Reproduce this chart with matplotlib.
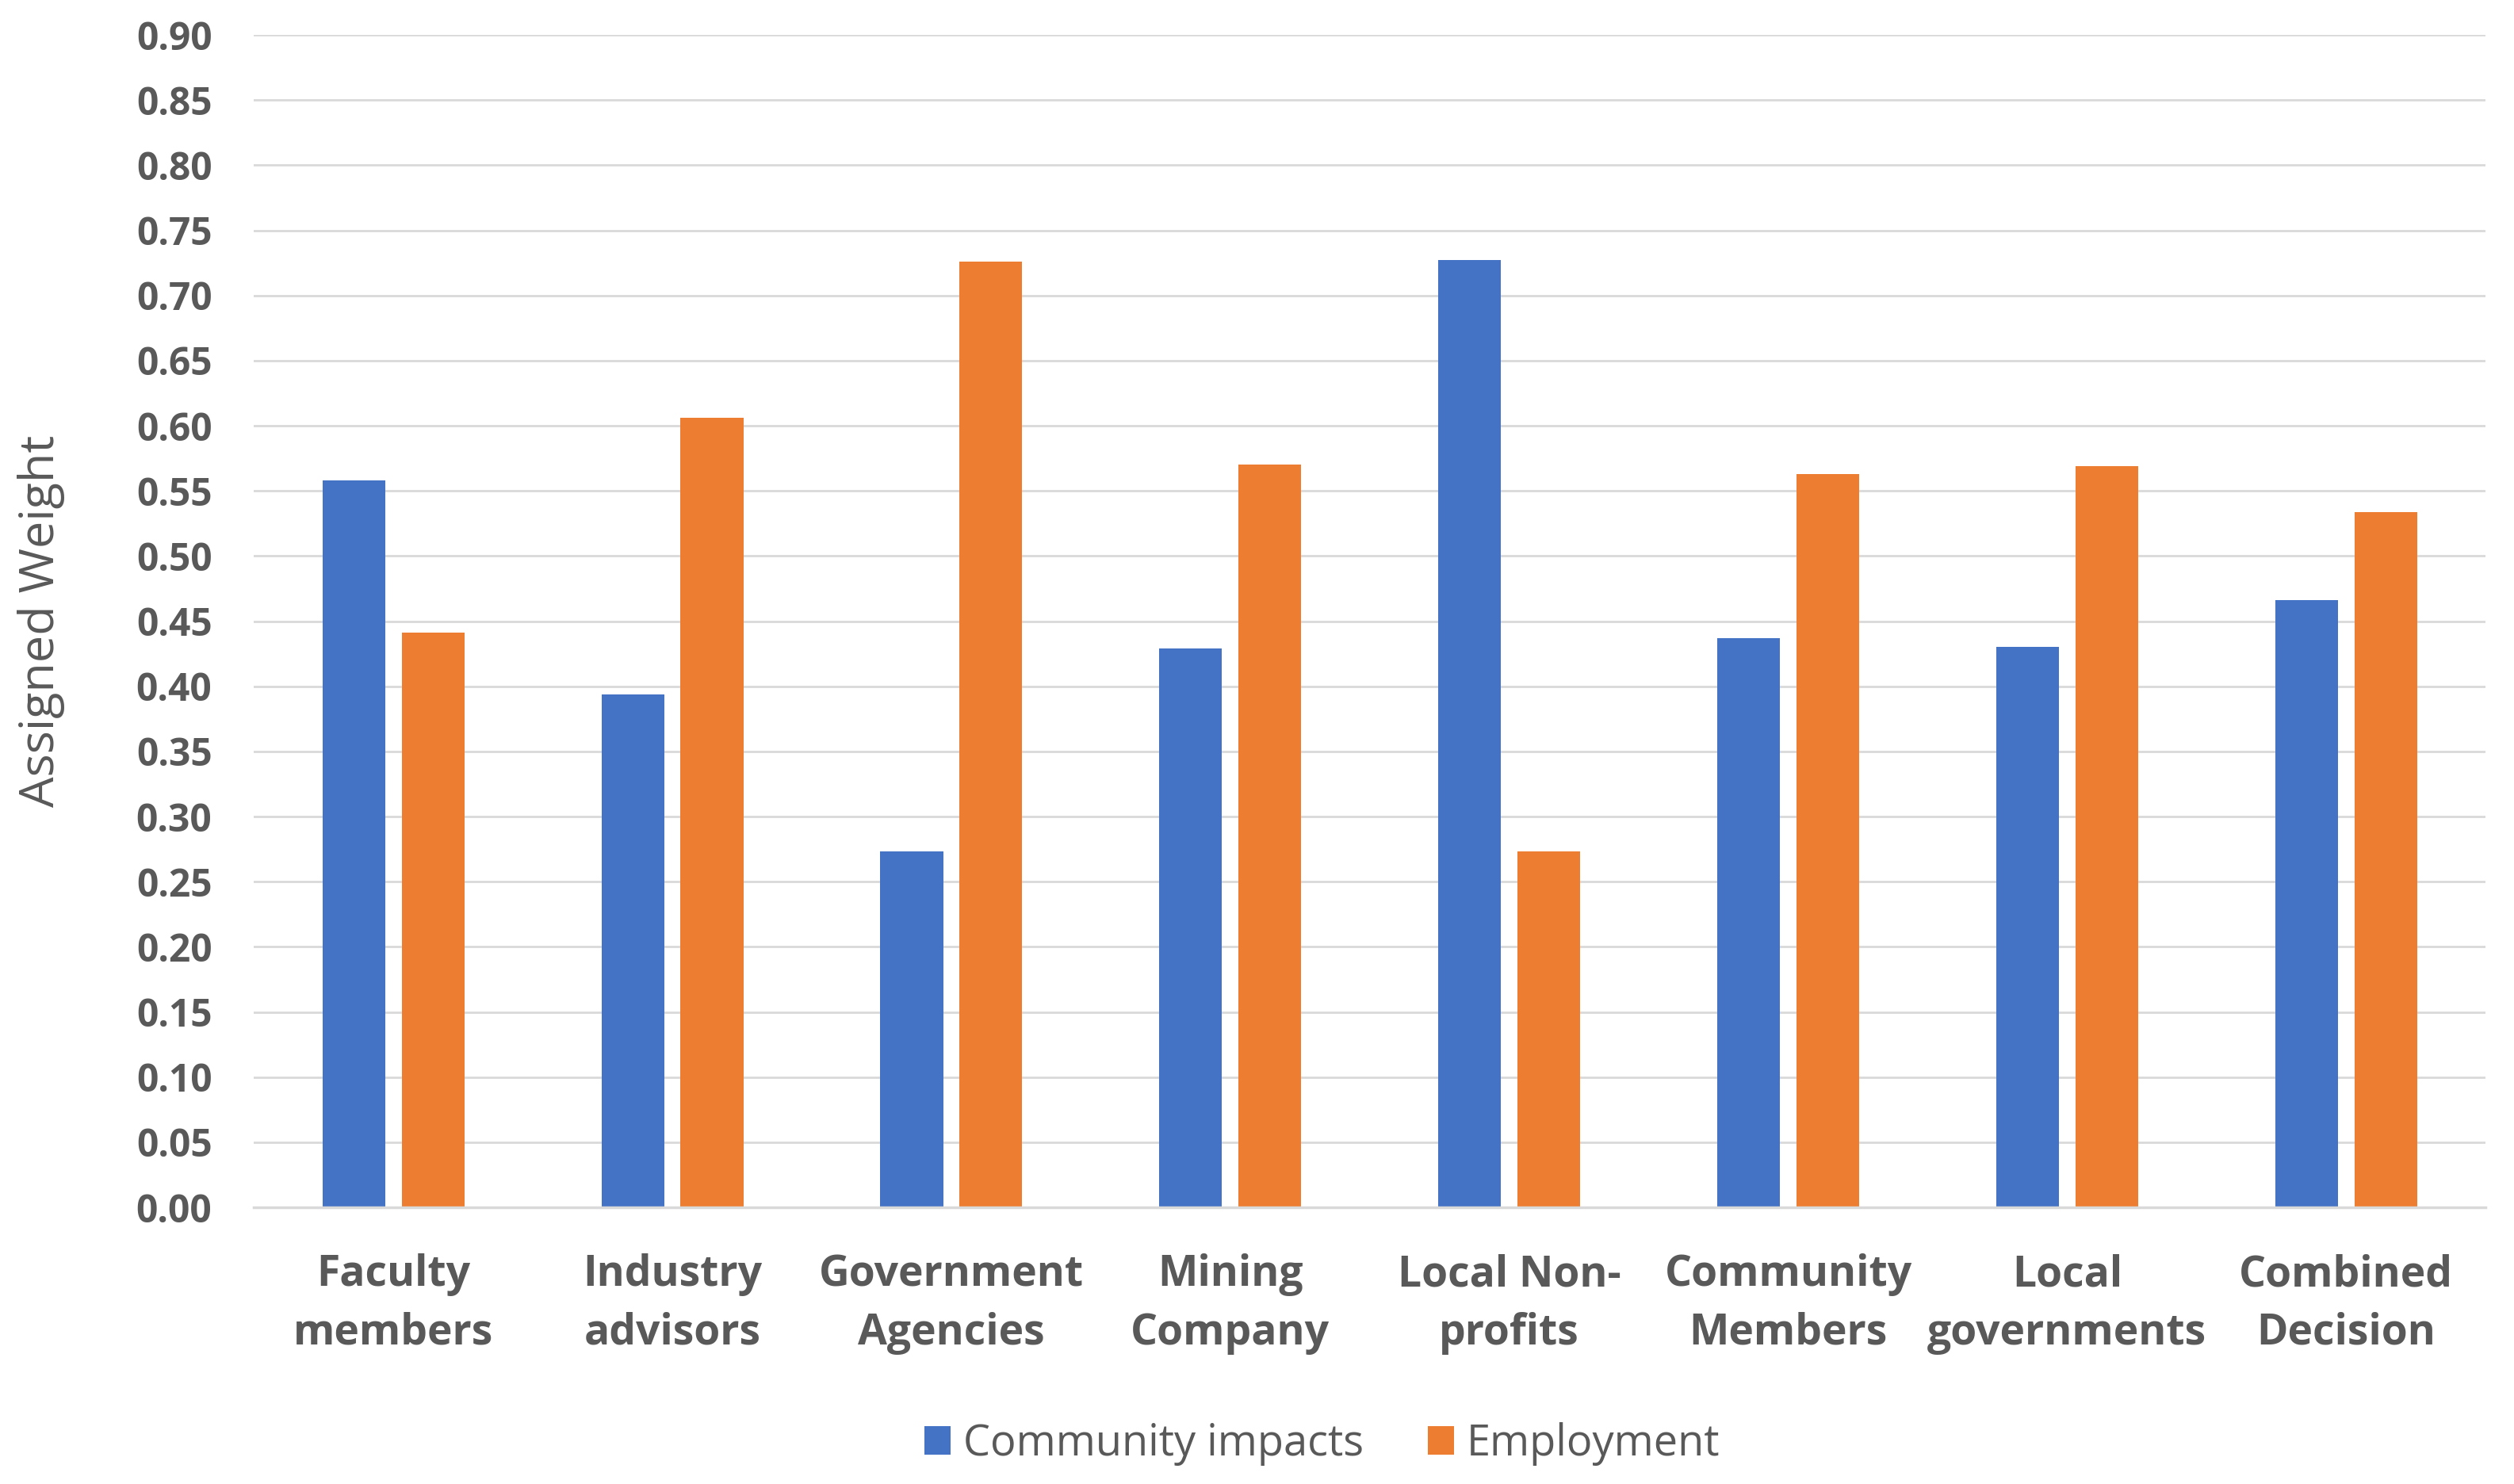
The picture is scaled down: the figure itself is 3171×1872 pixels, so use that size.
import numpy as np
import matplotlib.pyplot as plt

plt.rcParams['font.family'] = ['Open Sans', 'DejaVu Sans']

# data
groups = ["Faculty\nmembers", "Industry\nadvisors", "Government\nAgencies", "Mining\nCompany",
          "Local Non-\nprofits", "Community\nMembers", "Local\ngovernments", "Combined\nDecision"]
community = [0.558, 0.394, 0.273, 0.429, 0.727, 0.437, 0.430, 0.466]
employment = [0.441, 0.606, 0.726, 0.570, 0.273, 0.563, 0.569, 0.534]
yticks = np.arange(0, 0.901, 0.05)

blue = '#4472C4'
orange = '#ED7D31'
grey_text = '#595959'
grid = '#d9d9d9'

fig = plt.figure(figsize=(31.71, 18.72), dpi=100)
ax = fig.add_axes([0.101, 0.1864, 0.8877, 0.790])

x = np.arange(len(groups))
w = 0.225
off = 0.142
b1 = ax.bar(x - off, community, w, color=blue, label='Community impacts', zorder=3)
b2 = ax.bar(x + off, employment, w, color=orange, label='Employment', zorder=3)

ax.set_xlim(-0.5, len(groups) - 0.5)
ax.set_ylim(0, 0.9)
ax.set_yticks(yticks)
ax.set_yticklabels(['%.2f' % v for v in yticks])
ax.set_xticks(x)
ax.set_xticklabels(groups, linespacing=1.47)

for s in ['top', 'right', 'left']:
    ax.spines[s].set_visible(False)
ax.spines['bottom'].set_color(grid)
ax.spines['bottom'].set_linewidth(2.5)
ax.spines['bottom'].set_zorder(4)
ax.yaxis.grid(True, color=grid, linewidth=2)
ax.set_axisbelow(True)

ax.tick_params(axis='y', length=0, pad=38, labelsize=34.5, labelcolor=grey_text)
ax.tick_params(axis='x', length=0, pad=42, labelsize=38.5, labelcolor=grey_text)
for lab in ax.get_yticklabels() + ax.get_xticklabels():
    lab.set_fontweight('bold')

ax.set_ylabel('Assigned Weight', fontsize=44, color=grey_text)
ax.yaxis.set_label_coords(-0.0845, 0.5)

fig.legend(handles=[b1, b2], loc='center', bbox_to_anchor=(0.526, 0.027), ncol=2,
           frameon=False, fontsize=39, labelcolor=grey_text,
           handlelength=0.6, handleheight=0.65, handletextpad=0.3, columnspacing=1.5)

fig.savefig('out.png', dpi=100)
